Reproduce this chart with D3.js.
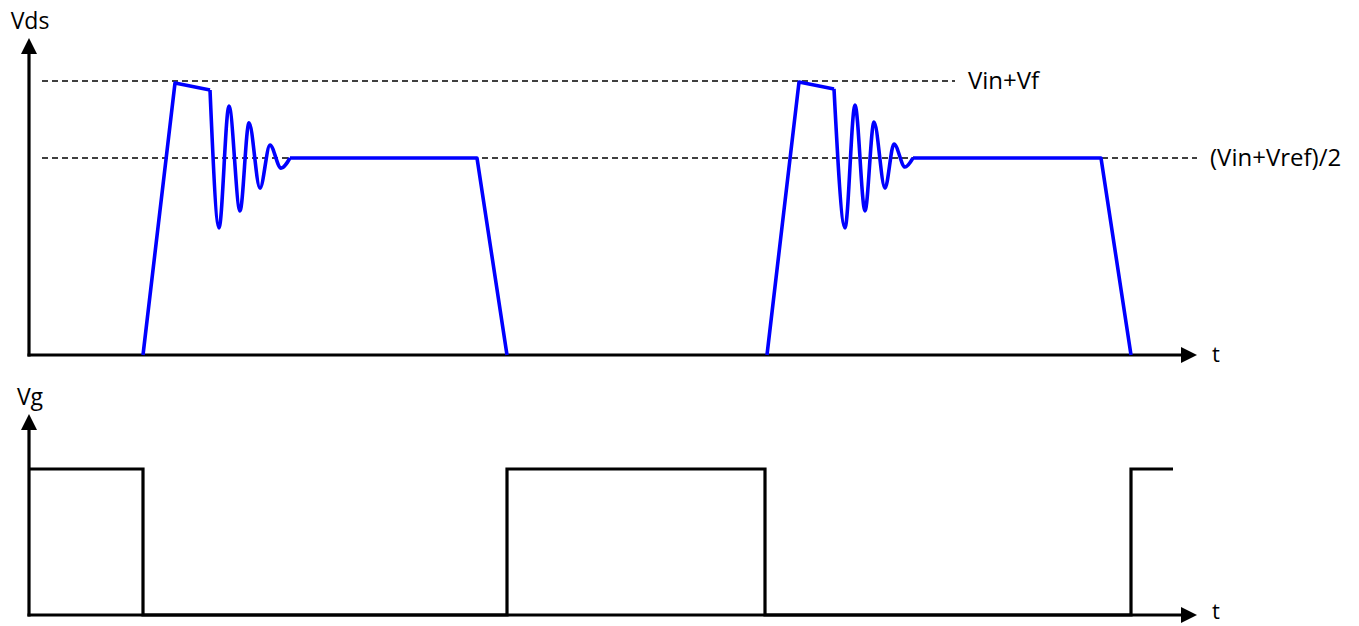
<!DOCTYPE html>
<html>
<head>
<meta charset="utf-8">
<script src="https://cdn.jsdelivr.net/npm/d3@7/dist/d3.min.js"></script>
<style>
  html, body { margin: 0; padding: 0; background: #fff; }
  svg { display: block; }
  text { font-family: "Open Sans", "Noto Sans", sans-serif; fill: #000; }
</style>
</head>
<body>
<svg id="chart" width="1359" height="626"></svg>
<script>
// ---------------- DATA ----------------
// time in arbitrary units (0..116.8), Vds in % of (Vin+Vf), Vg normalised 0..1
const tMax = 116.8;
const vdsMax = 115.7;
const vgMax = 1.377;

// reference levels
const refLevels = [
  { name: "Vin+Vf", value: 100.0, tEnd: 92.6 },
  { name: "(Vin+Vref)/2", value: 71.9, tEnd: 116.8 }
];

// pulse 1 : rising edge + overshoot top
const p1Rise = [[11.4, 0], [14.6, 99.3], [18.1, 96.7]];
// pulse 1 : ringing
const p1Ring = [[18.1, 96.7], [19.0, 46.4], [20.0, 90.9], [21.1, 52.6], [22.0, 84.7],
                [23.1, 60.9], [24.1, 76.6], [25.2, 68.2], [26.1, 71.9]];
// pulse 1 : plateau + falling edge
const p1Fall = [[26.1, 71.9], [44.8, 71.9], [47.8, 0]];

// pulse 2
const p2Rise = [[73.8, 0], [77.0, 99.6], [80.5, 97.1]];
const p2Ring = [[80.5, 97.1], [81.6, 46.4], [82.6, 91.2], [83.6, 52.6], [84.5, 85.0],
                [85.6, 60.9], [86.5, 77.0], [87.6, 68.6], [88.4, 71.9]];
const p2Fall = [[88.4, 71.9], [107.2, 71.9], [110.2, 0]];

// gate signal
const vgPoints = [[0, 1], [11.4, 1], [11.4, 0], [47.8, 0], [47.8, 1], [73.6, 1],
                  [73.6, 0], [110.2, 0], [110.2, 1], [114.4, 1]];

const axisLabels = { vds: "Vds", vg: "Vg", t: "t" };

// ---------------- DRAW ----------------
const svg = d3.select("#chart");

const x = d3.scaleLinear().domain([0, tMax]).range([29, 1197]);
const yVds = d3.scaleLinear().domain([0, 100]).range([355, 81]);
const yVg = d3.scaleLinear().domain([0, 1]).range([615, 469]);

function drawAxes(y, yTopVal, label, tDy) {
  const x0 = x(0), y0 = y(0), yTop = y(yTopVal), xEnd = x(tMax);
  // vertical axis
  svg.append("line").attr("x1", x0).attr("y1", y0 + 1.5).attr("x2", x0).attr("y2", yTop + 14)
    .attr("stroke", "#000").attr("stroke-width", 3.2);
  svg.append("path")
    .attr("d", `M${x0},${yTop} L${x0 - 8},${yTop + 16} L${x0 + 8},${yTop + 16} Z`)
    .attr("fill", "#000");
  // horizontal axis
  svg.append("line").attr("x1", x0 - 1.5).attr("y1", y0).attr("x2", xEnd - 14).attr("y2", y0)
    .attr("stroke", "#000").attr("stroke-width", 3.2);
  svg.append("path")
    .attr("d", `M${xEnd},${y0} L${xEnd - 16},${y0 - 8} L${xEnd - 16},${y0 + 8} Z`)
    .attr("fill", "#000");
  svg.append("text").attr("x", x0 + 1).attr("y", yTop - 9)
    .attr("text-anchor", "middle").attr("font-size", 23).text(label);
  svg.append("text").attr("x", xEnd + 15).attr("y", y0 + tDy)
    .attr("font-size", 22).text(axisLabels.t);
}

drawAxes(yVds, vdsMax, axisLabels.vds, 7);
drawAxes(yVg, vgMax, axisLabels.vg, 4);

// dashed reference lines
refLevels.forEach(r => {
  svg.append("line")
    .attr("x1", 42).attr("x2", x(r.tEnd))
    .attr("y1", yVds(r.value)).attr("y2", yVds(r.value))
    .attr("stroke", "#000").attr("stroke-width", 1.4)
    .attr("stroke-dasharray", "6,4");
  svg.append("text")
    .attr("x", x(r.tEnd) + 13).attr("y", yVds(r.value) + 8)
    .attr("font-size", 24).text(r.name);
});

// Vds waveform
const lin = d3.line().x(d => x(d[0])).y(d => yVds(d[1])).curve(d3.curveLinear);
const smooth = d3.line().x(d => x(d[0])).y(d => yVds(d[1])).curve(d3.curveMonotoneX);

[[p1Rise, p1Ring, p1Fall], [p2Rise, p2Ring, p2Fall]].forEach(([a, b, c]) => {
  const d = lin(a) + smooth(b) + lin(c);
  svg.append("path").attr("d", d)
    .attr("fill", "none").attr("stroke", "#0000ff").attr("stroke-width", 3.6)
    .attr("stroke-linejoin", "round");
});

// Vg waveform
const lineVg = d3.line().x(d => x(d[0])).y(d => yVg(d[1]));
svg.append("path").attr("d", lineVg(vgPoints))
  .attr("fill", "none").attr("stroke", "#000").attr("stroke-width", 3.2)
  .attr("stroke-linejoin", "miter");
</script>
</body>
</html>
